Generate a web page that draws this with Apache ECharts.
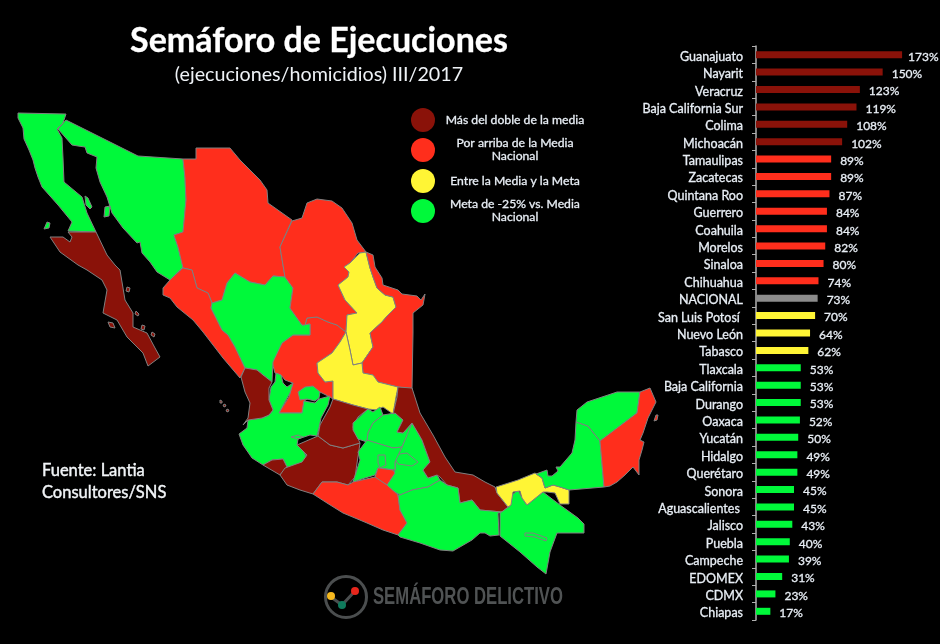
<!DOCTYPE html>
<html>
<head>
<meta charset="utf-8">
<title>Semáforo de Ejecuciones</title>
<script src="https://cdn.jsdelivr.net/npm/echarts@6/dist/echarts.min.js"></script>
<style>
  html, body { margin: 0; padding: 0; background: #000; }
  #chart { width: 940px; height: 644px; }
</style>
</head>
<body>
<div id="chart"></div>
<script>
// categorias y valores de la grafica de barras
const categories = ["Guanajuato", "Nayarit", "Veracruz", "Baja California Sur", "Colima", "Michoacán",
  "Tamaulipas", "Zacatecas", "Quintana Roo", "Guerrero", "Coahuila", "Morelos", "Sinaloa", "Chihuahua",
  "NACIONAL", "San Luis Potosí ", "Nuevo León", "Tabasco", "Tlaxcala", "Baja California", "Durango",
  "Oaxaca", "Yucatán", "Hidalgo", "Querétaro", "Sonora", "Aguascalientes ", "Jalisco", "Puebla",
  "Campeche", "EDOMEX", "CDMX", "Chiapas"];
const values = [173, 150, 123, 119, 108, 102, 89, 89, 87, 84, 84, 82, 80, 74, 73, 70, 64, 62,
  53, 53, 53, 52, 50, 49, 49, 45, 45, 43, 40, 39, 31, 23, 17];
// 0 doble de la media, 1 arriba de la media, 2 media-meta, 3 meta, 4 nacional
const levels = [0, 0, 0, 0, 0, 0, 1, 1, 1, 1, 1, 1, 1, 1, 4, 2, 2, 2,
  3, 3, 3, 3, 3, 3, 3, 3, 3, 3, 3, 3, 3, 3, 3];
const levelColors = ["#8a1209", "#ff2e1c", "#fff535", "#00f93a", "#8c8c8c"];
const legendTexts = ["Más del doble de la media", "Por arriba de la Media\nNacional",
  "Entre la Media y la Meta", "Meta de -25% vs. Media\nNacional"];

// contornos de los estados (x, y de la imagen)
const stateShapes = {
  "Zacatecas": [[[305,325],[307,318],[317,317],[328,322],[337,325],[346,332],[340,342],[332,353],[317,363],[318,373],[325,382],[333,381],[333,399],[330,397],[320,392],[304,401],[302,413],[279,413],[289,397],[293,383],[285,380],[281,375],[275,373],[272,362],[282,343],[293,335],[310,335],[310,324]]],
  "Baja California": [[[18,113],[66,114],[63,123],[57,129],[62,138],[63,158],[64,182],[82,197],[87,213],[96,232],[68,231],[72,222],[58,205],[42,187],[38,177],[35,168],[33,160],[29,150],[24,139],[23,128],[18,118]],
    [[47,222],[50,223],[49,228],[44,229]], [[85,196],[88,198],[92,207],[90,209],[86,205]]],
  "Sonora": [[[66,120],[138,156],[183,159],[185,178],[186,200],[183,232],[174,235],[178,247],[183,267],[170,280],[157,272],[150,262],[142,253],[140,242],[137,243],[123,228],[112,213],[107,197],[100,182],[96,168],[97,157],[87,153],[85,147],[78,146],[72,145],[58,129]],
    [[105,207],[110,206],[109,216],[104,217]]],
  "Chihuahua": [[[183,159],[196,159],[196,148],[230,148],[240,160],[260,180],[267,190],[268,203],[292,220],[280,247],[285,277],[273,276],[265,285],[250,282],[235,273],[227,283],[222,300],[212,303],[208,293],[197,288],[192,270],[183,268],[178,247],[174,235],[183,232],[186,200],[185,178]]],
  "Baja California Sur": [[[68,232],[96,232],[107,255],[115,265],[120,270],[125,300],[133,313],[133,327],[147,333],[155,348],[160,357],[148,366],[143,353],[127,337],[117,320],[103,313],[107,290],[102,280],[87,270],[78,265],[60,252],[50,237],[63,237],[70,242],[72,237]],
    [[127,287],[130,288],[129,292],[126,291]], [[136,311],[139,314],[138,316],[135,314]], [[142,325],[145,326],[144,330],[141,329]], [[152,332],[155,334],[154,337],[151,335]], [[108,322],[113,323],[115,328],[110,327]]],
  "Sinaloa": [[[170,280],[183,268],[192,270],[197,288],[208,293],[212,303],[211,308],[222,330],[228,335],[235,347],[245,368],[240,378],[223,358],[203,332],[193,320],[177,307],[170,298],[163,295],[163,288]]],
  "Durango": [[[212,303],[222,300],[227,283],[235,273],[250,282],[265,285],[273,276],[285,277],[293,288],[290,308],[302,325],[310,324],[310,335],[293,335],[282,343],[273,362],[272,382],[263,375],[257,370],[245,368],[235,347],[228,335],[222,330],[211,308]]],
  "Coahuila": [[[292,221],[302,218],[307,203],[317,199],[332,201],[342,208],[352,223],[357,240],[366,252],[358,253],[350,263],[344,267],[349,272],[348,277],[338,285],[345,300],[357,313],[347,315],[346,332],[337,325],[328,322],[317,317],[307,318],[305,325],[302,325],[290,308],[293,288],[285,277],[280,247]]],
  "Nuevo León": [[[360,253],[366,252],[370,268],[373,277],[377,288],[385,295],[393,297],[396,307],[388,315],[382,322],[370,333],[373,347],[362,363],[353,365],[350,350],[346,332],[347,315],[357,313],[345,300],[338,285],[348,277],[349,272],[344,267],[350,263]]],
  "Tamaulipas": [[[366,252],[373,255],[375,267],[382,278],[383,285],[398,290],[402,294],[417,296],[421,300],[425,294],[423,305],[413,313],[413,333],[412,389],[398,387],[378,382],[373,375],[363,373],[362,363],[373,347],[370,333],[382,322],[388,315],[396,307],[393,297],[385,295],[377,288],[373,277],[370,268]]],
  "San Luis Potosí": [[[346,332],[350,350],[353,365],[362,363],[363,373],[373,375],[378,382],[398,387],[396,397],[393,414],[383,407],[377,410],[368,409],[353,405],[333,399],[333,381],[325,382],[318,373],[317,363],[332,353],[340,342]]],
  "Jalisco": [[[276,373],[281,375],[283,383],[287,387],[293,383],[290,393],[285,402],[279,413],[302,413],[304,401],[315,403],[319,399],[330,396],[328,405],[321,418],[319,428],[317,436],[310,435],[298,439],[297,445],[303,450],[307,458],[306,465],[295,469],[287,467],[283,459],[272,460],[263,465],[252,458],[243,445],[239,434],[247,428],[248,420],[262,418],[269,415],[273,410],[269,400],[271,387],[275,382]],
    [[291,437],[298,435],[303,437],[298,439]]],
  "Aguascalientes": [[[298,392],[305,387],[313,386],[320,392],[319,398],[315,401],[307,399],[300,400]]],
  "Nayarit": [[[245,368],[257,370],[263,375],[272,382],[269,388],[269,400],[273,410],[269,415],[262,418],[248,420],[243,425],[248,418],[250,403],[245,392],[241,377]],
    [[220,400],[222,401],[222,403],[220,403]], [[224,404],[226,405],[225,407],[223,406]], [[227,409],[229,410],[228,412],[226,411]]],
  "Colima": [[[263,465],[272,460],[283,459],[287,467],[280,475]]],
  "Michoacán": [[[280,475],[285,468],[302,462],[307,455],[297,445],[318,436],[330,445],[343,448],[360,443],[355,477],[348,485],[337,482],[322,482],[313,494],[300,490],[287,485]]],
  "Guanajuato": [[[333,399],[353,405],[368,409],[358,417],[353,427],[360,443],[343,448],[330,445],[318,436],[320,425],[330,407]]],
  "Querétaro": [[[353,423],[368,409],[373,412],[380,407],[383,415],[373,423],[368,433],[367,442],[358,439],[353,430]]],
  "Hidalgo": [[[383,415],[395,413],[403,420],[397,432],[403,433],[412,423],[418,433],[405,440],[402,447],[393,448],[383,445],[372,442],[367,440],[368,433],[373,423]]],
  "Puebla": [[[412,423],[418,433],[422,440],[430,462],[423,470],[428,478],[437,475],[440,480],[428,487],[412,490],[400,495],[388,488],[387,483],[395,470],[395,462],[402,447],[405,440]]],
  "Tlaxcala": [[[393,455],[407,453],[418,462],[412,466],[398,464]]],
  "EDOMEX": [[[367,440],[383,445],[393,448],[402,447],[395,462],[395,470],[378,468],[375,475],[365,478],[353,482],[360,460],[358,452]]],
  "CDMX": [[[378,455],[385,455],[386,465],[380,468],[378,463]]],
  "Morelos": [[[378,468],[393,470],[395,473],[387,485],[377,480],[375,477]]],
  "Veracruz": [[[398,387],[412,388],[420,413],[433,435],[445,457],[455,472],[473,475],[485,482],[495,487],[497,493],[508,507],[502,512],[480,510],[472,500],[460,503],[458,488],[447,485],[440,477],[437,475],[428,478],[423,470],[430,462],[422,440],[418,433],[412,423],[403,433],[397,432],[403,420],[395,413],[393,414],[397,397]]],
  "Guerrero": [[[313,494],[322,482],[337,482],[348,485],[353,482],[375,477],[387,485],[398,495],[400,510],[407,523],[398,535],[383,530],[367,523],[343,513],[327,503]]],
  "Oaxaca": [[[398,495],[400,495],[412,490],[428,487],[440,480],[447,485],[458,488],[460,503],[472,500],[480,510],[502,512],[498,513],[499,535],[490,536],[485,533],[480,533],[472,540],[453,551],[440,550],[420,543],[400,537],[398,535],[407,523],[400,510]]],
  "Chiapas": [[[500,513],[510,506],[512,495],[518,490],[522,498],[527,505],[543,492],[560,505],[578,518],[584,524],[584,533],[557,533],[550,552],[548,563],[546,574],[537,567],[520,552],[500,536]],
    [[525,533],[533,533],[547,538],[546,541],[535,537],[525,536]]],
  "Tabasco": [[[496,487],[518,480],[535,473],[542,478],[545,488],[553,485],[560,487],[569,490],[569,504],[560,504],[555,493],[547,492],[543,492],[527,505],[522,498],[520,491],[513,492],[511,505],[508,507],[497,493]]],
  "Campeche": [[[536,474],[547,470],[548,476],[552,476],[558,471],[556,467],[560,467],[572,453],[575,440],[576,422],[588,426],[600,441],[604,487],[569,490],[560,487],[553,485],[545,488],[542,478]]],
  "Yucatán": [[[576,422],[577,410],[587,402],[617,392],[640,392],[637,413],[600,441],[588,426]]],
  "Quintana Roo": [[[640,392],[650,388],[656,402],[648,418],[643,433],[640,440],[644,442],[642,450],[639,460],[639,475],[633,467],[625,475],[617,482],[610,486],[604,487],[600,441],[637,413]],
    [[656,415],[658,415],[657,420],[654,421]]]
};

const pageH = 644;
const mexico = {
  type: "FeatureCollection",
  features: Object.keys(stateShapes).map(function (name) {
    return {
      type: "Feature",
      properties: { name: name },
      geometry: {
        type: "MultiPolygon",
        coordinates: stateShapes[name].map(function (ring) {
          return [ring.map(function (p) { return [p[0], pageH - p[1]]; })];
        })
      }
    };
  })
};
// Chapala y la presa de Chiapas son huecos, no islas
["Jalisco", "Chiapas"].forEach(function (name) {
  const f = mexico.features.find(function (it) { return it.properties.name === name; });
  f.geometry.coordinates = [[f.geometry.coordinates[0][0], f.geometry.coordinates[1][0]]];
});
echarts.registerMap("mexico", mexico);

const mapData = [];
categories.forEach(function (c, i) {
  const name = c.trim();
  if (stateShapes[name]) {
    mapData.push({ name: name, value: values[i], itemStyle: { areaColor: levelColors[levels[i]] } });
  }
});

const font = "Lato, Carlito, 'Open Sans', sans-serif";
const chart = echarts.init(document.getElementById("chart"));

// leyenda y logo
const legendY = [120, 150, 181, 211];
const graphics = [];
legendY.forEach(function (y, i) {
  graphics.push({ type: "circle", shape: { cx: 423, cy: y, r: 12 }, style: { fill: levelColors[i] } });
  graphics.push({
    type: "text", x: 515, y: y,
    style: { text: legendTexts[i], fill: "#e8eef5", font: "12.2px " + font, align: "center", verticalAlign: "middle", lineHeight: 13, stroke: "#e8eef5", lineWidth: 0.3 }
  });
});
graphics.push(
  { type: "circle", shape: { cx: 346, cy: 597, r: 20.5 }, style: { fill: "none", stroke: "#4b4e4f", lineWidth: 3 } },
  { type: "polyline", shape: { points: [[331, 597], [342, 605], [355, 591]] }, style: { fill: "none", stroke: "#4b4e4f", lineWidth: 3 } },
  { type: "circle", shape: { cx: 331, cy: 596, r: 4 }, style: { fill: "#f5b81e" } },
  { type: "circle", shape: { cx: 342, cy: 605, r: 4 }, style: { fill: "#0f7a5c" } },
  { type: "circle", shape: { cx: 355, cy: 591, r: 4 }, style: { fill: "#e8261c" } },
  {
    type: "text", x: 373, y: 598, scaleX: 0.725,
    style: { text: "SEMÁFORO DELICTIVO", fill: "#505354", font: "bold 23px 'Liberation Sans', sans-serif", align: "left", verticalAlign: "middle" }
  },
  {
    type: "text", x: 42, y: 482,
    style: { text: "Fuente: Lantia\nConsultores/SNS", fill: "#f2f5f8", font: "16.5px " + font, align: "left", verticalAlign: "middle", lineHeight: 22, stroke: "#f2f5f8", lineWidth: 0.4 }
  }
);

chart.setOption({
  backgroundColor: "#000",
  animation: false,
  title: [
    { text: "Semáforo de Ejecuciones", left: 314, top: 19, textAlign: "center", textStyle: { color: "#fff", fontFamily: font, fontSize: 34, textBorderColor: "#fff", textBorderWidth: 0.3 } },
    { text: "(ejecuciones/homicidios) III/2017", left: 314, top: 60, textAlign: "center", textStyle: { color: "#eef2f6", fontFamily: font, fontSize: 19.7, fontWeight: 400 } }
  ],
  grid: { left: 756, top: 46, width: 152, height: 574 },
  xAxis: { type: "value", min: 0, max: 180, show: false },
  yAxis: {
    type: "category",
    inverse: true,
    data: categories,
    axisLine: { show: true, lineStyle: { color: "#b0b0b0", width: 1.5 } },
    axisTick: { show: true, length: 4, lineStyle: { color: "#b0b0b0" } },
    axisLabel: { color: "#e8eef5", fontFamily: font, fontSize: 12.5, margin: 13, verticalAlign: "top", lineHeight: 4, interval: 0, textBorderColor: "#e8eef5", textBorderWidth: 0.3 }
  },
  series: [
    {
      type: "bar",
      barWidth: 7,
      silent: true,
      data: values.map(function (v, i) {
        const item = { value: v, itemStyle: { color: levelColors[levels[i]] } };
        if (i === 0) item.label = { distance: 6 };
        return item;
      }),
      label: {
        show: true, position: "right", distance: 9, offset: [0, 2],
        formatter: "{c}%", color: "#e8eef5", fontFamily: font, fontSize: 12, textBorderColor: "#e8eef5", textBorderWidth: 0.3
      }
    },
    {
      type: "map",
      map: "mexico",
      boundingCoords: [[0, pageH], [940, 0]],
      left: 0, top: 0, width: 940, height: pageH,
      aspectScale: 1,
      roam: false,
      silent: true,
      selectedMode: false,
      label: { show: false },
      emphasis: { disabled: true },
      itemStyle: { borderColor: "#808080", borderWidth: 1, areaColor: "#000" },
      data: mapData
    }
  ],
  graphic: graphics
});
</script>
</body>
</html>
